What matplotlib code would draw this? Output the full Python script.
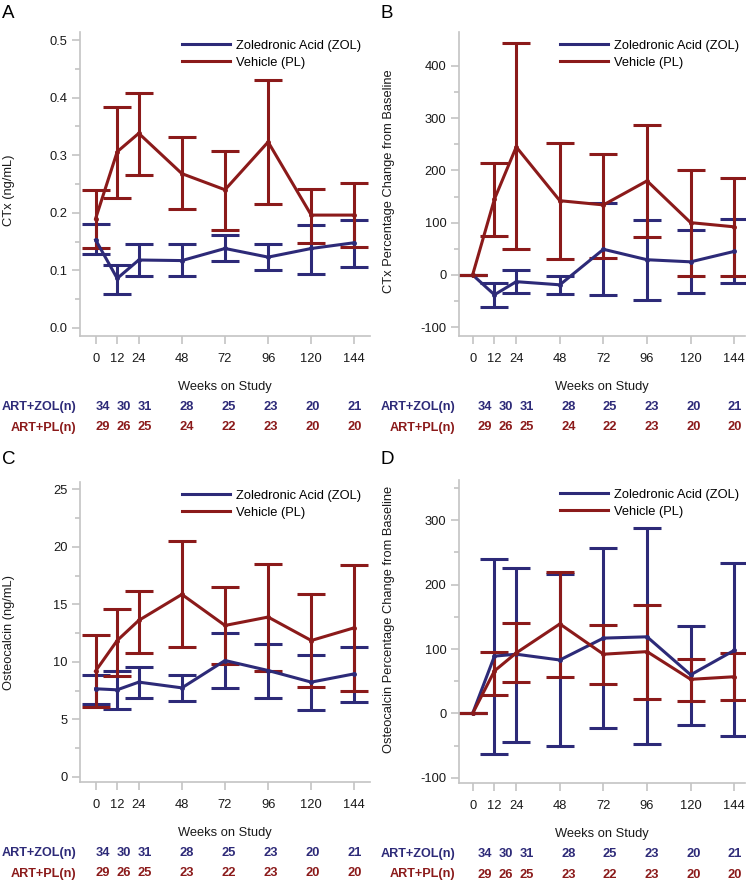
import matplotlib
matplotlib.use("Agg")
import matplotlib.pyplot as plt
import numpy as np

plt.rcParams['font.family'] = ['Liberation Sans', 'DejaVu Sans']

BLUE = '#2d2a78'
RED = '#8b1a1a'
GRAY = '#c4c4c4'
TXT = '#1a1a1a'
FS = 9.3

weeks = [0, 12, 24, 48, 72, 96, 120, 144]
n_zol = [34, 30, 31, 28, 25, 23, 20, 21]
n_pl_top = [29, 26, 25, 24, 22, 23, 20, 20]
n_pl_bot = [29, 26, 25, 23, 22, 23, 20, 20]

# Panel A: CTx (ng/mL)
a_zol_mean = [0.153, 0.086, 0.118, 0.117, 0.138, 0.123, 0.138, 0.148]
a_zol_lo = [0.128, 0.059, 0.090, 0.090, 0.116, 0.101, 0.094, 0.106]
a_zol_hi = [0.180, 0.109, 0.145, 0.145, 0.161, 0.145, 0.178, 0.187]
a_pl_mean = [0.190, 0.306, 0.338, 0.268, 0.240, 0.323, 0.196, 0.196]
a_pl_lo = [0.139, 0.226, 0.266, 0.206, 0.170, 0.216, 0.148, 0.140]
a_pl_hi = [0.240, 0.384, 0.408, 0.331, 0.308, 0.430, 0.241, 0.252]

# Panel B: CTx % change
b_zol_mean = [0, -38, -13, -19, 49, 29, 25, 45]
b_zol_lo = [0, -61, -35, -36, -39, -48, -34, -16]
b_zol_hi = [0, -15, 10, -2, 138, 105, 86, 107]
b_pl_mean = [0, 145, 245, 142, 134, 180, 100, 92]
b_pl_lo = [0, 75, 50, 31, 33, 73, -3, -3]
b_pl_hi = [0, 215, 443, 253, 232, 287, 201, 186]

# Panel C: Osteocalcin (ng/mL)
c_zol_mean = [7.65, 7.56, 8.23, 7.73, 10.11, 9.24, 8.23, 8.95]
c_zol_lo = [6.34, 5.90, 6.86, 6.63, 7.73, 6.86, 5.82, 6.49]
c_zol_hi = [8.81, 9.24, 9.53, 8.81, 12.52, 11.56, 10.63, 11.27]
c_pl_mean = [9.2, 11.85, 13.6, 15.86, 13.16, 13.89, 11.85, 12.96]
c_pl_lo = [6.05, 8.75, 10.8, 11.27, 9.82, 9.24, 7.79, 7.5]
c_pl_hi = [12.29, 14.55, 16.2, 20.5, 16.5, 18.53, 15.86, 18.44]

# Panel D: Osteocalcin % change
d_zol_mean = [0, 89, 92, 83, 117, 119, 60, 98]
d_zol_lo = [0, -63, -45, -51, -22, -48, -18, -35]
d_zol_hi = [0, 240, 226, 217, 257, 288, 136, 233]
d_pl_mean = [0, 66, 94, 139, 92, 96, 53, 57]
d_pl_lo = [0, 28, 49, 57, 46, 22, 20, 21]
d_pl_hi = [0, 95, 140, 219, 137, 169, 85, 94]

W, H = 750, 884
fig = plt.figure(figsize=(W / 100, H / 100), dpi=100)


def px_axes(left, top, right, bottom):
    return fig.add_axes([left / W, (H - bottom) / H, (right - left) / W, (bottom - top) / H])


panels = [
    dict(letter='A', letter_xy=(2, 13.5), box=(80, 32, 370, 336), xlim=(-8.7, 152.7),
         ylim=(-0.014, 0.514),
         yticks=[0.0, 0.1, 0.2, 0.3, 0.4, 0.5], yminor=np.arange(0.05, 0.5, 0.1), yfmt='{:.1f}',
         ylabel='CTx (ng/mL)', ylab_y=0.48, tabx=(-12.8, 152.6), npl=n_pl_top,
         zol=(a_zol_mean, a_zol_lo, a_zol_hi), pl=(a_pl_mean, a_pl_lo, a_pl_hi),
         leg_xy=(182, 46.7)),
    dict(letter='B', letter_xy=(380, 13.5), box=(459, 32, 745, 336), xlim=(-7.5, 149.9),
         ylim=(-117, 465),
         yticks=[-100, 0, 100, 200, 300, 400], yminor=np.arange(-50, 450, 100), yfmt='{:.0f}',
         ylabel='CTx Percentage Change from Baseline', ylab_y=0.51, tabx=(-15.0, 149.8),
         npl=n_pl_top,
         zol=(b_zol_mean, b_zol_lo, b_zol_hi), pl=(b_pl_mean, b_pl_lo, b_pl_hi),
         leg_xy=(560, 46.7)),
    dict(letter='C', letter_xy=(2, 460), box=(80, 482, 370, 782), xlim=(-8.7, 152.7),
         ylim=(-0.46, 25.64),
         yticks=[0, 5, 10, 15, 20, 25], yminor=np.arange(2.5, 25, 5), yfmt='{:.0f}',
         ylabel='Osteocalcin (ng/mL)', ylab_y=0.5, tabx=(-12.8, 152.6), npl=n_pl_bot,
         zol=(c_zol_mean, c_zol_lo, c_zol_hi), pl=(c_pl_mean, c_pl_lo, c_pl_hi),
         leg_xy=(182, 496.7)),
    dict(letter='D', letter_xy=(380, 460), box=(459, 480, 745, 783), xlim=(-7.5, 149.9),
         ylim=(-108, 362.5),
         yticks=[-100, 0, 100, 200, 300], yminor=np.arange(-50, 360, 100), yfmt='{:.0f}',
         ylabel='Osteocalcin Percentage Change from Baseline', ylab_y=0.54, tabx=(-15.0, 149.8),
         npl=n_pl_bot,
         zol=(d_zol_mean, d_zol_lo, d_zol_hi), pl=(d_pl_mean, d_pl_lo, d_pl_hi),
         leg_xy=(560, 495.7)),
]

for p in panels:
    l, t, r, b = p['box']
    ax = px_axes(l, t, r, b)
    ax.set_xlim(*p['xlim'])
    ax.set_ylim(*p['ylim'])
    for s in ['top', 'right']:
        ax.spines[s].set_visible(False)
    for s in ['left', 'bottom']:
        ax.spines[s].set_color(GRAY)
        ax.spines[s].set_linewidth(1.2)
    ax.set_xticks(weeks)
    ax.set_xticklabels([str(w) for w in weeks])
    ax.set_yticks(p['yticks'])
    ax.set_yticklabels([p['yfmt'].format(v) for v in p['yticks']])
    ax.set_yticks(p['yminor'], minor=True)
    ax.tick_params(axis='both', which='major', colors=GRAY, labelcolor=TXT,
                   labelsize=FS, length=6, width=1.2)
    ax.tick_params(axis='x', pad=6.5)
    ax.tick_params(axis='y', pad=3)
    ax.tick_params(axis='y', which='minor', colors=GRAY, length=3.5, width=1.2)
    ax.set_xlabel('Weeks on Study', fontsize=FS, color=TXT, labelpad=11.5)
    ax.set_ylabel(p['ylabel'], fontsize=FS, color=TXT)
    ax.yaxis.set_label_coords(-0.224, p['ylab_y'])

    for (mean, lo, hi), col in [(p['zol'], BLUE), (p['pl'], RED)]:
        mean = np.array(mean, float)
        lo = np.array(lo, float)
        hi = np.array(hi, float)
        ax.errorbar(weeks, mean, yerr=[mean - lo, hi - mean], fmt='none', ecolor=col,
                    elinewidth=2.2, capsize=10, capthick=2.2, zorder=2)
    lz, = ax.plot(weeks, p['zol'][0], color=BLUE, lw=2.2, marker='o', ms=2.5, zorder=3,
                  label='Zoledronic Acid (ZOL)')
    lp, = ax.plot(weeks, p['pl'][0], color=RED, lw=2.2, marker='o', ms=2.5, zorder=3,
                  label='Vehicle (PL)')
    lx, ly = p['leg_xy']
    leg = ax.legend(handles=[lz, lp], loc='upper left', frameon=False, fontsize=FS,
                    bbox_to_anchor=((lx - l) / (r - l), 1 - (ly - 6.8 - t) / (b - t)),
                    handlelength=3.7, handletextpad=0.5, labelspacing=0.35,
                    borderaxespad=0, borderpad=0)
    for h in leg.legend_handles:
        h.set_marker('')
        h.set_linewidth(2.2)

    fx, fy = p['letter_xy']
    fig.text(fx / W, (H - fy) / H, p['letter'], fontsize=13.5, ha='left', va='center',
             color='black')

    # risk table with own x scale
    tab = ax.twiny()
    tab.set_xlim(*p['tabx'])
    tab.axis('off')
    for vals, off, col in [(n_zol, 71, BLUE), (p['npl'], 91.5, RED)]:
        for w, v in zip(weeks, vals):
            tab.annotate(str(v), xy=(w, 0), xycoords=('data', 'axes fraction'),
                         xytext=(0, -off), textcoords='offset pixels', ha='center',
                         va='center', fontsize=FS, fontweight='bold', color=col,
                         annotation_clip=False)
    for lab, off, col in [('ART+ZOL(n)', 71, BLUE), ('ART+PL(n)', 91.5, RED)]:
        ax.annotate(lab, xy=(-4 / (r - l), 0), xycoords='axes fraction',
                    xytext=(0, -off), textcoords='offset pixels', ha='right', va='center',
                    fontsize=9.1, fontweight='bold', color=col, annotation_clip=False)

fig.savefig('out.png', dpi=100)
